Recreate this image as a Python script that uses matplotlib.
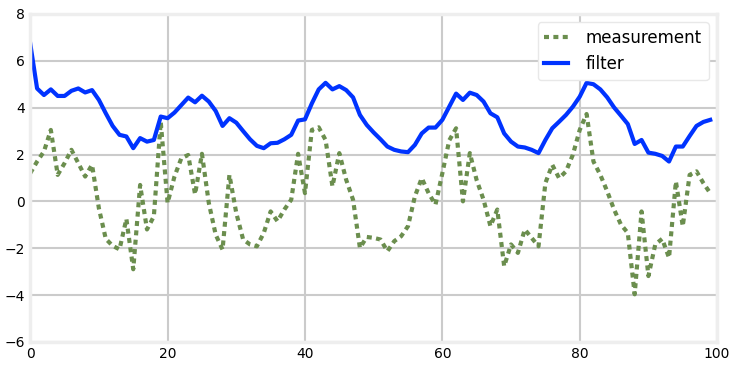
import matplotlib
matplotlib.use("Agg")
import matplotlib.pyplot as plt

measurement = [1.2, 1.7, 2.13, 3.05, 1.13, 1.63, 2.2, 1.63, 1.06, 1.56,
               -0.3, -1.6, -1.9, -2.05, -0.75, -2.9, 0.7, -1.2, -0.64, 3.4,
               -0.07, 1.06, 1.84, 1.98, 0.3, 2.03, -0.07, -1.42, -2.06, 1.13,
               -0.5, -1.63, -1.84, -1.92, -1.35, -0.43, -0.85, -0.35, 0.07, 2.03,
               0.35, 3.05, 3.16, 2.62, 0.64, 2.06, 0.92, 0.07, -1.99, -1.52,
               -1.56, -1.63, -2.13, -1.7, -1.49, -1.06, 0.21, 0.99, 0.35, -0.14,
               1.2, 2.6, 3.12, 0.0, 2.06, 0.9, 0.07, -1.06, -0.35, -2.77,
               -1.84, -2.2, -1.2, -1.56, -1.92, 0.78, 1.56, 0.99, 1.28, 1.99,
               3.05, 3.73, 1.7, 1.13, 0.43, -0.35, -0.99, -1.35, -3.97, -0.43,
               -3.19, -1.84, -1.6, -2.41, 0.85, -1.06, 1.13, 1.28, 0.78, 0.35]

filtered = [6.74, 4.82, 4.54, 4.78, 4.5, 4.5, 4.72, 4.82, 4.65, 4.75,
            4.33, 3.76, 3.22, 2.84, 2.77, 2.27, 2.7, 2.55, 2.62, 3.62,
            3.55, 3.79, 4.11, 4.43, 4.23, 4.51, 4.26, 3.86, 3.22, 3.55,
            3.36, 3.0, 2.65, 2.37, 2.27, 2.48, 2.5, 2.65, 2.84, 3.45,
            3.5, 4.18, 4.78, 5.06, 4.78, 4.92, 4.75, 4.44, 3.69, 3.26,
            2.94, 2.65, 2.34, 2.2, 2.13, 2.1, 2.41, 2.9, 3.15, 3.15,
            3.48, 4.04, 4.6, 4.33, 4.64, 4.54, 4.26, 3.76, 3.59, 2.9,
            2.55, 2.34, 2.3, 2.2, 2.06, 2.62, 3.12, 3.4, 3.69, 4.04,
            4.47, 5.06, 5.0, 4.78, 4.44, 4.01, 3.66, 3.3, 2.45, 2.62,
            2.08, 2.03, 1.94, 1.7, 2.34, 2.34, 2.79, 3.22, 3.39, 3.48]

x = list(range(len(measurement)))

fig = plt.figure(figsize=(7.37, 3.68), dpi=100)
ax = fig.add_axes([0.041, 0.071, 0.932, 0.891])

ax.plot(x, measurement, color="#6b8e4e", lw=3, linestyle=(0, (1.2, 1.05)),
        label="measurement")
ax.plot(x, filtered, color="#0033ff", lw=3, label="filter")

ax.set_xlim(0, 100)
ax.set_ylim(-6, 8)
ax.set_xticks(range(0, 101, 20))
ax.set_yticks(range(-6, 9, 2))
ax.tick_params(length=0, labelsize=10, pad=4)

ax.grid(True, color="#cbcbcb", lw=1.5)
ax.set_axisbelow(True)
for s in ax.spines.values():
    s.set_color("#eeeeee")
    s.set_linewidth(2.5)

leg = ax.legend(loc="upper right", fontsize=12, handlelength=1.4,
                handletextpad=1.1, framealpha=1, borderaxespad=0.5)
leg.get_frame().set_edgecolor("#e8e8e8")

fig.savefig("out.png", dpi=100, facecolor="white")
